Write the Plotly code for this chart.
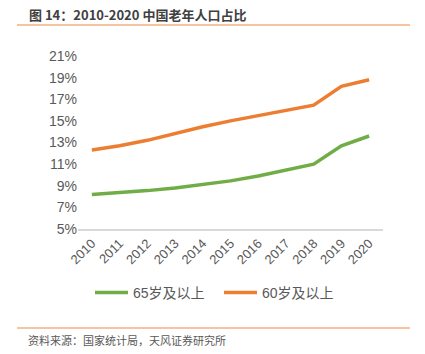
import plotly.graph_objects as go

years = ["2010", "2011", "2012", "2013", "2014", "2015", "2016", "2017", "2018", "2019", "2020"]
age65 = [8.2, 8.35, 8.55, 8.8, 9.1, 9.45, 9.9, 10.45, 11.0, 12.7, 13.6]
age60 = [12.3, 12.7, 13.2, 13.85, 14.45, 15.0, 15.5, 16.0, 16.45, 18.2, 18.8]
yticks = [5, 7, 9, 11, 13, 15, 17, 19, 21]

FONT = "Liberation Sans, Arial, Noto Sans CJK SC, sans-serif"

fig = go.Figure()
fig.add_trace(go.Scatter(x=years, y=age65, mode="lines", name="65岁及以上",
                         line=dict(color="#70AD47", width=3.5), legend="legend"))
fig.add_trace(go.Scatter(x=years, y=age60, mode="lines", name="60岁及以上",
                         line=dict(color="#ED7D31", width=3.5), legend="legend2"))

leg_common = dict(orientation="h", xref="container", xanchor="left",
                  y=(354 - 293) / 354, yref="container", yanchor="middle",
                  font=dict(size=14, color="#595959"), itemwidth=33,
                  bgcolor="rgba(0,0,0,0)")

fig.update_layout(
    width=425, height=354,
    margin=dict(l=78, r=42, t=56, b=125, autoexpand=False),
    paper_bgcolor="white", plot_bgcolor="white",
    font=dict(family=FONT, color="#595959", size=13),
    showlegend=True,
    legend=dict(x=90 / 425, **leg_common),
    legend2=dict(x=219 / 425, **leg_common),
    xaxis=dict(type="category", range=[-0.5, 10.5], showgrid=False,
               showline=True, linecolor="#d9d9d9", linewidth=1.5,
               ticks="", tickangle=-45, tickfont=dict(size=13, color="#595959")),
    yaxis=dict(range=[5, 21], tickvals=yticks, ticktext=[f"{v}%" for v in yticks],
               showgrid=False, zeroline=False, showline=False, ticks="",
               tickfont=dict(size=14, color="#595959")),
)

fig.add_annotation(text="<b>图 14：2010-2020 中国老年人口占比</b>", xref="paper", yref="paper",
                   x=(27 - 78) / 305, y=1 + (56 - 14) / 173, xanchor="left", yanchor="middle",
                   showarrow=False, font=dict(size=13, color="#404040",
                                              family="Noto Sans CJK SC, sans-serif"))
fig.add_annotation(text="资料来源：国家统计局，天风证券研究所", xref="paper", yref="paper",
                   x=(26 - 78) / 305, y=-(340 - 229) / 173, xanchor="left", yanchor="middle",
                   showarrow=False, font=dict(size=11, color="#595959",
                                              family="Noto Sans CJK SC, sans-serif"))

for yy in [25, 328]:
    fig.add_shape(type="line", xref="paper", yref="paper",
                  x0=(17 - 78) / 305, x1=(410 - 78) / 305,
                  y0=(229 - yy) / 173, y1=(229 - yy) / 173,
                  line=dict(color="#F4B183", width=1.5))

fig.write_html("out.html")
